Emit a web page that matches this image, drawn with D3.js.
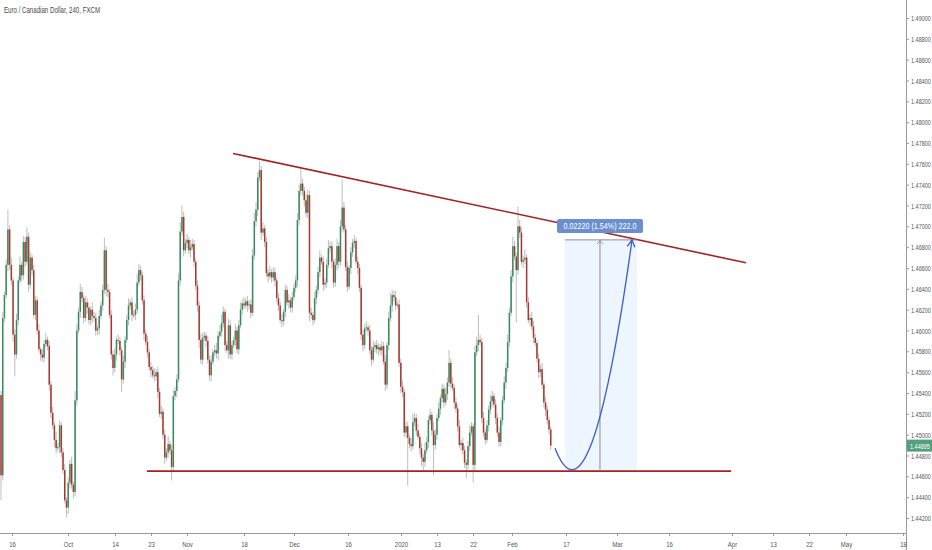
<!DOCTYPE html>
<html><head><meta charset="utf-8">
<script src="https://cdn.jsdelivr.net/npm/d3@7"></script>
<style>html,body{margin:0;padding:0;background:#fff;}svg{display:block;font-family:"Liberation Sans",Arial,sans-serif;}</style>
</head><body><svg id="c" width="932" height="550"></svg>
<script>
const title = "Euro / Canadian Dollar, 240, FXCM";
const opens = [
1.4538,1.4461,1.4612,1.4634,1.4663,1.4697,1.4663,1.4648,1.4596,1.4577,1.4610,1.4648,1.4663,1.4653,1.4685,1.4666,1.4690,1.4644,1.4670,1.4658,
1.4615,1.4629,1.4600,1.4582,1.4577,1.4574,1.4587,1.4591,1.4585,1.4548,1.4521,1.4509,1.4495,1.4487,1.4488,1.4509,1.4483,1.4466,1.4437,1.4430,
1.4454,1.4472,1.4452,1.4445,1.4533,1.4600,1.4618,1.4637,1.4631,1.4612,1.4627,1.4622,1.4610,1.4620,1.4614,1.4612,1.4600,1.4602,1.4614,1.4624,
1.4639,1.4677,1.4639,1.4637,1.4615,1.4577,1.4564,1.4577,1.4591,1.4590,1.4581,1.4553,1.4570,1.4591,1.4610,1.4624,1.4627,1.4615,1.4615,1.4620,
1.4646,1.4658,1.4653,1.4629,1.4597,1.4589,1.4579,1.4565,1.4562,1.4557,1.4556,1.4560,1.4541,1.4520,1.4522,1.4500,1.4478,1.4483,1.4491,1.4485,
1.4469,1.4537,1.4542,1.4553,1.4648,1.4695,1.4709,1.4677,1.4684,1.4687,1.4677,1.4680,1.4683,1.4666,1.4643,1.4624,1.4591,1.4572,1.4593,1.4595,
1.4590,1.4572,1.4557,1.4570,1.4579,1.4581,1.4578,1.4595,1.4599,1.4607,1.4618,1.4586,1.4581,1.4605,1.4577,1.4586,1.4591,1.4600,1.4582,1.4605,
1.4620,1.4626,1.4624,1.4628,1.4624,1.4625,1.4617,1.4672,1.4705,1.4716,1.4747,1.4754,1.4694,1.4698,1.4685,1.4655,1.4652,1.4656,1.4651,1.4656,
1.4648,1.4631,1.4624,1.4610,1.4609,1.4618,1.4639,1.4627,1.4629,1.4622,1.4632,1.4641,1.4648,1.4706,1.4734,1.4741,1.4734,1.4725,1.4713,1.4730,
1.4617,1.4615,1.4610,1.4631,1.4639,1.4656,1.4670,1.4666,1.4644,1.4646,1.4663,1.4679,1.4681,1.4666,1.4646,1.4663,1.4681,1.4666,1.4700,1.4718,
1.4697,1.4661,1.4642,1.4660,1.4675,1.4684,1.4686,1.4666,1.4660,1.4641,1.4596,1.4586,1.4602,1.4603,1.4600,1.4581,1.4572,1.4584,1.4586,1.4582,
1.4584,1.4581,1.4585,1.4570,1.4548,1.4586,1.4612,1.4624,1.4634,1.4632,1.4624,1.4625,1.4569,1.4546,1.4541,1.4502,1.4508,1.4497,1.4491,1.4489,
1.4512,1.4516,1.4504,1.4498,1.4487,1.4478,1.4474,1.4485,1.4493,1.4514,1.4519,1.4504,1.4490,1.4500,1.4516,1.4525,1.4535,1.4544,1.4531,1.4539,
1.4550,1.4569,1.4549,1.4545,1.4531,1.4525,1.4508,1.4490,1.4492,1.4485,1.4473,1.4471,1.4489,1.4502,1.4508,1.4471,1.4579,1.4586,1.4591,1.4589,
1.4516,1.4502,1.4495,1.4509,1.4524,1.4532,1.4537,1.4529,1.4516,1.4502,1.4493,1.4514,1.4533,1.4550,1.4564,1.4589,1.4617,1.4652,1.4681,1.4671,
1.4658,1.4700,1.4694,1.4666,1.4668,1.4670,1.4627,1.4610,1.4612,1.4604,1.4593,1.4588,1.4573,1.4560,1.4563,1.4548,1.4531,1.4524,1.4514,1.4505];
const closes = [
1.4461,1.4612,1.4634,1.4663,1.4697,1.4663,1.4648,1.4596,1.4577,1.4610,1.4648,1.4663,1.4653,1.4685,1.4666,1.4690,1.4644,1.4670,1.4658,1.4615,
1.4629,1.4600,1.4582,1.4577,1.4574,1.4587,1.4591,1.4585,1.4548,1.4521,1.4509,1.4495,1.4487,1.4488,1.4509,1.4483,1.4466,1.4437,1.4430,1.4454,
1.4472,1.4452,1.4445,1.4533,1.4600,1.4618,1.4637,1.4631,1.4612,1.4627,1.4622,1.4610,1.4620,1.4614,1.4612,1.4600,1.4602,1.4614,1.4624,1.4639,
1.4677,1.4639,1.4637,1.4615,1.4577,1.4564,1.4577,1.4591,1.4590,1.4581,1.4553,1.4570,1.4591,1.4610,1.4624,1.4627,1.4615,1.4615,1.4620,1.4646,
1.4658,1.4653,1.4629,1.4597,1.4589,1.4579,1.4565,1.4562,1.4557,1.4556,1.4560,1.4541,1.4520,1.4522,1.4500,1.4478,1.4483,1.4491,1.4485,1.4469,
1.4537,1.4542,1.4553,1.4648,1.4695,1.4709,1.4677,1.4684,1.4687,1.4677,1.4680,1.4683,1.4666,1.4643,1.4624,1.4591,1.4572,1.4593,1.4595,1.4590,
1.4572,1.4557,1.4570,1.4579,1.4581,1.4578,1.4595,1.4599,1.4607,1.4618,1.4586,1.4581,1.4605,1.4577,1.4586,1.4591,1.4600,1.4582,1.4605,1.4620,
1.4626,1.4624,1.4628,1.4624,1.4625,1.4617,1.4672,1.4705,1.4716,1.4747,1.4754,1.4694,1.4698,1.4685,1.4655,1.4652,1.4656,1.4651,1.4656,1.4648,
1.4631,1.4624,1.4610,1.4609,1.4618,1.4639,1.4627,1.4629,1.4622,1.4632,1.4641,1.4648,1.4706,1.4734,1.4741,1.4734,1.4725,1.4713,1.4730,1.4617,
1.4615,1.4610,1.4631,1.4639,1.4656,1.4670,1.4666,1.4644,1.4646,1.4663,1.4679,1.4681,1.4666,1.4646,1.4663,1.4681,1.4666,1.4700,1.4718,1.4697,
1.4661,1.4642,1.4660,1.4675,1.4684,1.4686,1.4666,1.4660,1.4641,1.4596,1.4586,1.4602,1.4603,1.4600,1.4581,1.4572,1.4584,1.4586,1.4582,1.4584,
1.4581,1.4585,1.4570,1.4548,1.4586,1.4612,1.4624,1.4634,1.4632,1.4624,1.4625,1.4569,1.4546,1.4541,1.4502,1.4508,1.4497,1.4491,1.4489,1.4512,
1.4516,1.4504,1.4498,1.4487,1.4478,1.4474,1.4485,1.4493,1.4514,1.4519,1.4504,1.4490,1.4500,1.4516,1.4525,1.4535,1.4544,1.4531,1.4539,1.4550,
1.4569,1.4549,1.4545,1.4531,1.4525,1.4508,1.4490,1.4492,1.4485,1.4473,1.4471,1.4489,1.4502,1.4508,1.4471,1.4579,1.4586,1.4591,1.4589,1.4516,
1.4502,1.4495,1.4509,1.4524,1.4532,1.4537,1.4529,1.4516,1.4502,1.4493,1.4514,1.4533,1.4550,1.4564,1.4589,1.4617,1.4652,1.4681,1.4671,1.4658,
1.4700,1.4694,1.4666,1.4668,1.4670,1.4627,1.4610,1.4612,1.4604,1.4593,1.4588,1.4573,1.4560,1.4563,1.4548,1.4531,1.4524,1.4514,1.4505,1.44895];
const upperWickPips = [
4,6,3,5,19,4,7,3,5,6,4,8,3,6,5,9,4,6,3,5,
4,3,6,2,5,4,7,3,5,4,6,3,8,4,5,3,4,6,3,5,
4,7,3,9,6,4,8,5,3,6,4,5,3,7,4,5,3,6,4,5,
12,4,6,3,5,4,6,3,5,4,3,6,4,5,7,3,5,4,6,8,
6,4,3,5,4,6,3,5,4,7,3,5,4,6,3,5,4,8,3,5,
6,4,5,7,9,11,5,4,6,3,7,5,4,3,5,4,6,5,4,3,
5,4,6,3,5,7,4,6,8,5,3,4,6,5,4,3,6,4,5,7,
4,6,3,5,4,5,6,8,7,5,9,4,6,3,5,4,6,3,5,4,
3,5,4,6,3,5,4,6,3,5,4,5,7,6,15,5,4,6,5,4,
5,3,6,4,5,7,3,5,4,6,8,4,5,3,6,7,4,6,27,5,
4,6,3,5,4,6,3,5,4,3,5,4,6,3,5,4,6,3,5,4,
3,5,4,6,3,6,12,5,4,6,3,5,4,6,3,5,4,3,6,8,
5,4,6,3,5,4,7,5,4,6,3,8,5,4,6,3,5,4,6,5,
12,4,6,3,5,4,6,3,5,4,3,5,7,4,3,6,8,24,5,4,
6,3,5,4,6,5,3,5,4,6,3,4,6,5,7,5,6,9,5,4,
19,6,5,4,8,3,5,4,6,5,4,3,5,4,6,3,5,4,3,3];
const lowerWickPips = [
24,5,4,3,6,5,4,7,21,4,5,3,6,4,5,3,7,4,5,3,
5,4,3,6,4,5,3,4,6,5,4,7,5,3,6,5,4,3,9,6,
5,4,6,4,5,3,6,4,5,3,6,4,5,7,3,5,4,6,3,5,
4,6,5,3,5,7,4,6,3,5,12,4,6,3,5,4,6,3,5,4,
3,5,4,6,3,5,4,7,3,5,4,6,3,5,4,6,3,5,4,13,
5,4,6,3,5,4,6,3,5,4,7,3,5,4,6,8,4,5,3,6,
4,5,6,3,4,5,7,3,5,4,6,3,8,4,5,3,6,4,5,3,
5,4,3,6,4,5,3,4,5,6,4,7,3,5,4,6,3,5,4,6,
4,5,3,6,4,5,3,6,4,5,3,4,6,5,4,5,6,4,5,8,
4,5,3,6,4,5,3,6,4,5,3,4,6,5,4,5,6,4,5,3,
4,5,3,6,4,5,3,6,4,5,6,4,3,5,4,6,3,5,4,6,
4,5,3,6,4,5,3,6,4,5,3,4,6,5,4,5,46,4,5,3,
4,5,3,6,8,9,5,3,6,4,5,29,4,5,3,6,4,5,3,6,
4,5,3,6,4,5,3,6,4,5,13,4,5,3,17,5,4,6,3,5,
4,5,3,6,4,5,3,6,4,5,4,5,3,6,4,5,3,6,4,50,
4,5,3,6,4,5,3,6,4,5,3,4,6,5,4,5,6,4,5,4];
const pip = 0.0001;
const firstBarDay = -2.128;   // trading days relative to 16 Sep 2019
const barsPerDay = 3;
const priceTicks = [1.442,1.444,1.446,1.448,1.450,1.452,1.454,1.456,1.458,1.460,1.462,1.464,1.466,1.468,1.470,1.472,1.474,1.476,1.478,1.480,1.482,1.484,1.486,1.488,1.490];
const dateTickLabels = ["16","Oct","14","23","Nov","18","Dec","16","2020","13","22","Feb","17","Mar","16","Apr","13","22","May","18"];
const dateTickDays = [0,10.83,19.92,26.89,33.85,44.87,54.55,64.99,75.24,82.21,89.17,96.71,107.16,117.02,127.08,139.26,147.2,154.16,161.32,172.34];
const lastPrice = 1.44895;
const supportLevel = 1.4465, supportDays = [26.1, 139.1];
const trendDays = [42.75, 141.97], trendPrices = [1.4770, 1.4665];
const measureDays = [106.96, 120.89], measurePrices = [1.4465, 1.4687], measureArrowDay = 113.73;
const measureLabel = "0.02220 (1.54%) 222.0";
const curveDays = [105.03, 111.93, 119.92], curvePrices = [1.4487, 1.4399, 1.4687];

const svg = d3.select("#c");
const W = 932, H = 550, axisX = 906, axisY = 533;
const x = d3.scaleLinear().domain([0, 100]).range([12, 529]);
const y = d3.scaleLinear().domain([1.442, 1.490]).range([518, 18]);

function condense(sel, factor) {
  sel.each(function () {
    const w = this.getComputedTextLength();
    d3.select(this).attr("textLength", w * factor).attr("lengthAdjust", "spacingAndGlyphs");
  });
}

svg.append("defs").append("clipPath").attr("id","plot").append("rect").attr("x",0).attr("y",0).attr("width",axisX).attr("height",axisY);
const plot = svg.append("g").attr("clip-path","url(#plot)");

// measurement area
plot.append("rect").attr("x", x(measureDays[0])).attr("y", y(measurePrices[1]))
  .attr("width", x(measureDays[1]) - x(measureDays[0])).attr("height", y(measurePrices[0]) - y(measurePrices[1]))
  .attr("fill", "#edf5fe");

// candles
const candles = closes.map((c, i) => {
  const o = opens[i];
  return {t: firstBarDay + i / barsPerDay, o, c, h: Math.max(o, c) + upperWickPips[i] * pip, l: Math.min(o, c) - lowerWickPips[i] * pip};
});
const cg = plot.append("g");
cg.selectAll("line.w").data(candles).join("line").attr("class","w")
  .attr("x1", d => x(d.t)).attr("x2", d => x(d.t))
  .attr("y1", d => y(d.h)).attr("y2", d => y(d.l))
  .attr("stroke", "#bdbdbd").attr("stroke-width", 1);
cg.selectAll("rect.b").data(candles).join("rect").attr("class","b")
  .attr("x", d => x(d.t) - 0.75).attr("width", 1.5)
  .attr("y", d => y(Math.max(d.o, d.c)))
  .attr("height", d => Math.max(1, Math.abs(y(d.o) - y(d.c))))
  .attr("fill", d => d.c >= d.o ? "#348b60" : "#a9372d");

// support & trend lines
plot.append("line").attr("x1", x(supportDays[0])).attr("x2", x(supportDays[1]))
  .attr("y1", y(supportLevel)).attr("y2", y(supportLevel)).attr("stroke", "#a52222").attr("stroke-width", 1.6);
plot.append("line").attr("x1", x(trendDays[0])).attr("x2", x(trendDays[1]))
  .attr("y1", y(trendPrices[0])).attr("y2", y(trendPrices[1])).attr("stroke", "#a52222").attr("stroke-width", 1.6);

// measurement lines
plot.append("line").attr("x1", x(measureDays[0])).attr("x2", x(measureDays[1]))
  .attr("y1", y(measurePrices[1])).attr("y2", y(measurePrices[1])).attr("stroke", "#8c8c8c").attr("stroke-width", 1);
const ax = x(measureArrowDay);
plot.append("line").attr("x1", ax).attr("x2", ax).attr("y1", y(measurePrices[0])).attr("y2", y(measurePrices[1]))
  .attr("stroke", "#8c8c8c").attr("stroke-width", 1);
plot.append("path").attr("d", `M${ax-3},${y(measurePrices[1])+4}L${ax},${y(measurePrices[1])+1}L${ax+3},${y(measurePrices[1])+4}`)
  .attr("fill","none").attr("stroke", "#8c8c8c").attr("stroke-width", 1);

// curve
const P = curveDays.map((d, i) => [x(d), y(curvePrices[i])]);
const cp = d3.path();
cp.moveTo(P[0][0], P[0][1]);
cp.quadraticCurveTo(P[1][0], P[1][1], P[2][0], P[2][1]);
plot.append("path").attr("d", cp.toString()).attr("fill","none").attr("stroke","#3d5bc9").attr("stroke-width",1.3);
const ang = Math.atan2(P[2][1] - P[1][1], P[2][0] - P[1][0]);
const ah = 8, spread = 0.5;
plot.append("path").attr("d", `M${P[2][0] - ah*Math.cos(ang - spread)},${P[2][1] - ah*Math.sin(ang - spread)}L${P[2][0]},${P[2][1]}L${P[2][0] - ah*Math.cos(ang + spread)},${P[2][1] - ah*Math.sin(ang + spread)}`)
  .attr("fill","none").attr("stroke","#3d5bc9").attr("stroke-width",1.3);

// measurement label
const ly = y(measurePrices[1]) - 21;
plot.append("rect").attr("x", ax - 43).attr("y", ly).attr("width", 86).attr("height", 14).attr("rx", 2)
  .attr("fill", "#6a8ed0");
plot.append("text").attr("x", ax).attr("y", ly + 10).attr("text-anchor","middle")
  .attr("fill","#fff").attr("font-size", 8.5).attr("textLength", 73).attr("lengthAdjust", "spacingAndGlyphs").text(measureLabel);

// title
svg.append("text").attr("x", 4).attr("y", 13).attr("fill", "#4a4a4a").attr("font-size", 9).text(title)
  .attr("textLength", 96).attr("lengthAdjust", "spacingAndGlyphs");

// right axis
const ra = svg.append("g").attr("transform", `translate(${axisX},0)`)
  .call(d3.axisRight(y).tickValues(priceTicks).tickFormat(d3.format(".5f")).tickSize(3).tickPadding(2));
ra.select(".domain").remove();
ra.selectAll(".tick line").attr("stroke", "#9a9a9a");
ra.selectAll(".tick text").attr("fill", "#555").attr("font-size", 8).attr("font-family", null)
  .attr("x", 0).attr("transform", "translate(5,0) scale(0.69,1)");
svg.append("line").attr("x1", axisX + 0.5).attr("x2", axisX + 0.5).attr("y1", 0).attr("y2", H).attr("stroke", "#9a9a9a");

// last price
svg.append("rect").attr("x", axisX + 1).attr("y", y(lastPrice) - 6).attr("width", W - axisX - 1).attr("height", 12).attr("fill", "#55a07c");
svg.append("text").attr("transform", `translate(${axisX + 4},${y(lastPrice) + 3}) scale(0.69,1)`)
  .attr("fill", "#fff").attr("font-size", 8).text(d3.format(".5f")(lastPrice));

// bottom axis
const ba = svg.append("g").attr("transform", `translate(0,${axisY})`)
  .call(d3.axisBottom(x).tickValues(dateTickDays).tickFormat((d, i) => dateTickLabels[i]).tickSize(3).tickPadding(5));
ba.select(".domain").remove();
ba.selectAll(".tick line").attr("stroke", "#9a9a9a");
ba.selectAll(".tick text").attr("fill", "#555").attr("font-size", 8).attr("font-family", null);
condense(ba.selectAll(".tick text"), 0.75);
svg.append("line").attr("x1", 0).attr("x2", axisX).attr("y1", axisY + 0.5).attr("y2", axisY + 0.5).attr("stroke", "#9a9a9a");
</script></body></html>
